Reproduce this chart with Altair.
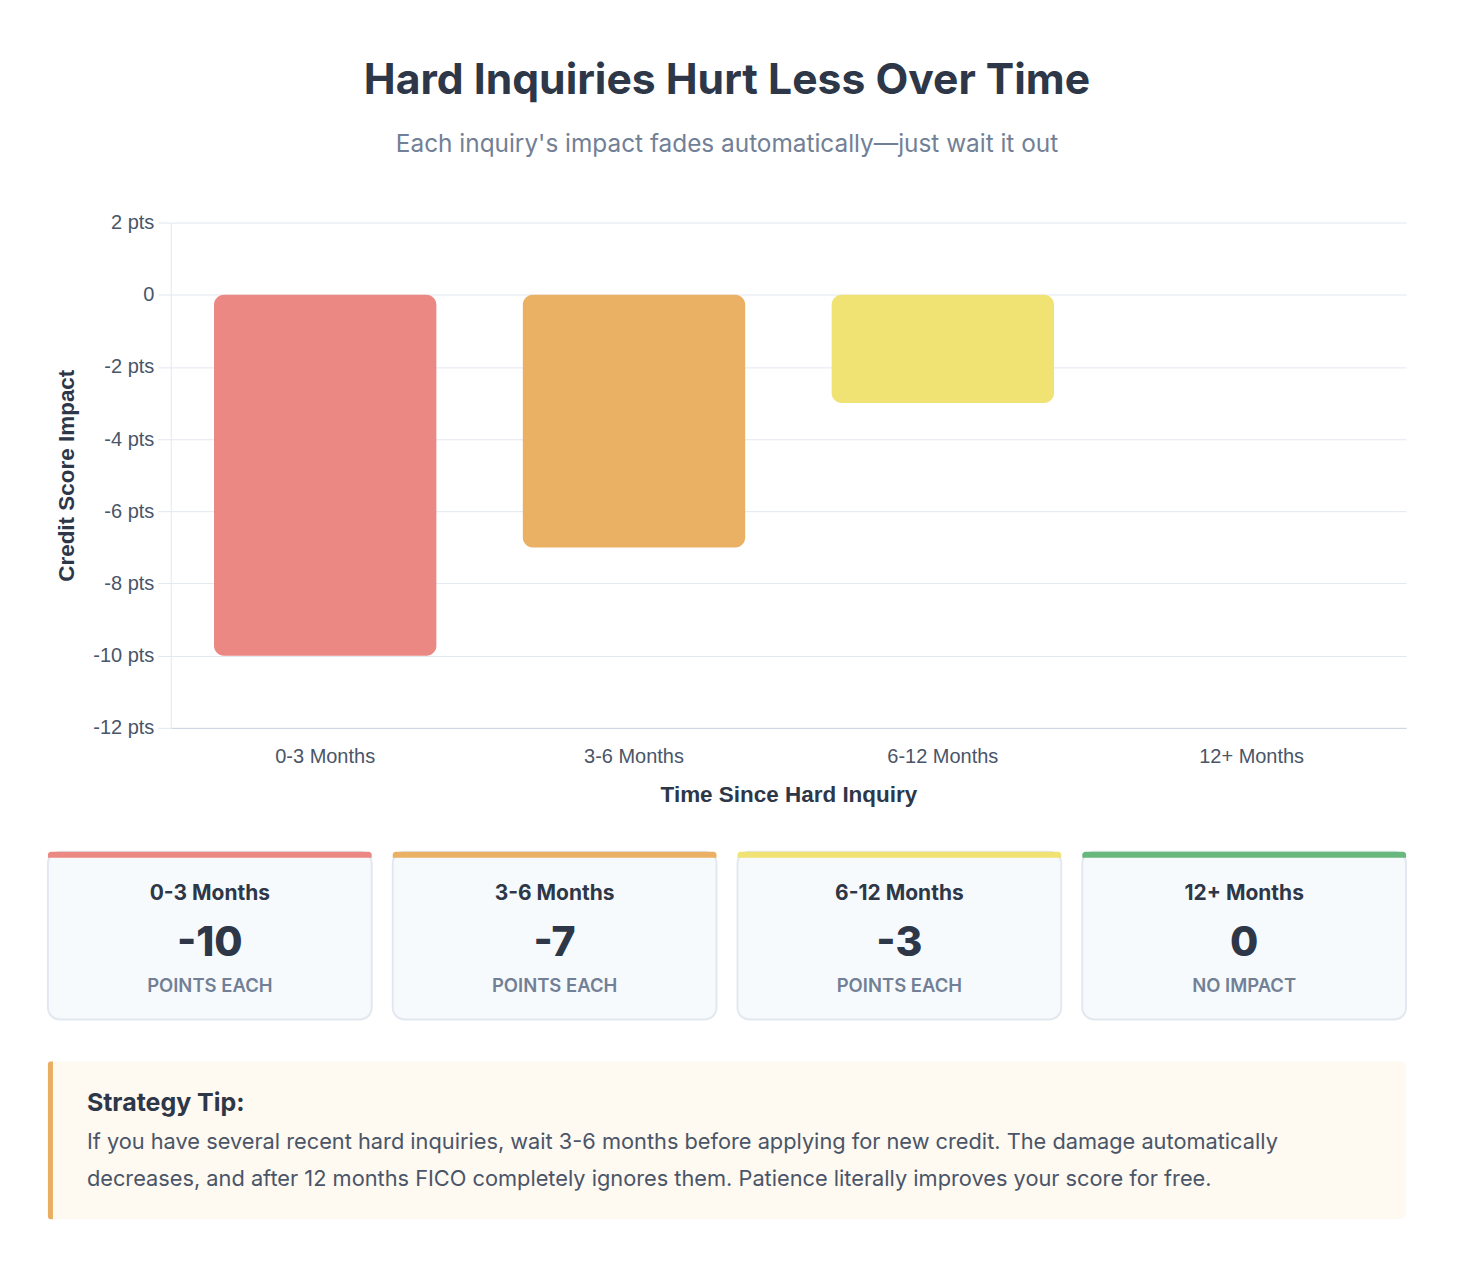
import altair as alt
import pandas as pd

# ---- data -------------------------------------------------------------
periods = ["0-3 Months", "3-6 Months", "6-12 Months", "12+ Months"]
impact = [-10, -7, -3, 0]
card_notes = ["POINTS EACH", "POINTS EACH", "POINTS EACH", "NO IMPACT"]
period_colors = ["#EB8883", "#EAB064", "#F1E274", "#68B77C"]
y_ticks = [2, 0, -2, -4, -6, -8, -10, -12]

title_text = "Hard Inquiries Hurt Less Over Time"
subtitle_text = "Each inquiry's impact fades automatically\u2014just wait it out"
tip_heading = "Strategy Tip:"
tip_lines = [
    "If you have several recent hard inquiries, wait 3-6 months before applying for new credit. The damage automatically",
    "decreases, and after 12 months FICO completely ignores them. Patience literally improves your score for free.",
]

FONT = "Inter"
AXIS_FONT = "Liberation Sans"
DARK = "#2D3748"
MUTED = "#718096"
BODY = "#4A5568"
GRID = "#E2E8F0"

df = pd.DataFrame({"period": periods, "impact": impact, "note": card_notes})
df["value_label"] = df["impact"].astype(str)

color = alt.Color(
    "period:N", scale=alt.Scale(domain=periods, range=period_colors), legend=None
)

# Every panel shares the plot's left edge as its origin; the card row and
# the tip box reach LEFT_REACH px further left, under the y axis.
PLOT_W, PLOT_H = 1237, 506
LEFT_REACH = 123

# ---- bar chart --------------------------------------------------------
bars = alt.Chart(df).mark_bar(cornerRadius=10).encode(
    x=alt.X(
        "period:N",
        sort=periods,
        scale=alt.Scale(paddingInner=0.28, paddingOuter=0.14),
        axis=alt.Axis(
            title="Time Since Hard Inquiry",
            labelAngle=0,
            ticks=False,
            grid=False,
            domainColor="#CBD5E0",
            labelPadding=19,
            titlePadding=17,
        ),
    ),
    y=alt.Y(
        "impact:Q",
        scale=alt.Scale(domain=[-12, 2], nice=False, zero=False),
        axis=alt.Axis(
            values=y_ticks,
            title="Credit Score Impact",
            labelExpr="datum.value == 0 ? '0' : datum.value + ' pts'",
            tickSize=13,
            tickColor=GRID,
            domainColor=GRID,
            gridColor=GRID,
            labelPadding=4,
            titlePadding=14,
        ),
    ),
    y2=alt.datum(0),
    color=color,
)

bar_chart = bars.properties(width=PLOT_W, height=PLOT_H)

# ---- summary cards ----------------------------------------------------
TOP = 4
CARD_H = 168

cards_base = alt.Chart(df).encode(
    x=alt.X(
        "period:N",
        sort=periods,
        scale=alt.Scale(paddingInner=0.0609, paddingOuter=0, range=[-LEFT_REACH, PLOT_W]),
        axis=None,
    )
)
card_bg = cards_base.mark_rect(
    cornerRadius=12, fill="#F7FAFC", stroke=GRID, strokeWidth=2
).encode(y=alt.value(TOP), y2=alt.value(TOP + CARD_H))
card_stripe = cards_base.mark_rect(
    cornerRadiusTopLeft=8, cornerRadiusTopRight=8
).encode(y=alt.value(TOP), y2=alt.value(TOP + 6), color=color)
card_title = cards_base.mark_text(
    font=FONT, fontSize=21, fontWeight=700, color=DARK
).encode(text="period:N", y=alt.value(TOP + 42))
card_value = cards_base.mark_text(
    font=FONT, fontSize=41, fontWeight=800, color=DARK
).encode(text="value_label:N", y=alt.value(TOP + 92))
card_note = cards_base.mark_text(
    font=FONT, fontSize=18.5, fontWeight=600, color=MUTED
).encode(text="note:N", y=alt.value(TOP + 134))

cards = alt.layer(card_bg, card_stripe, card_title, card_value, card_note).properties(
    width=PLOT_W, height=TOP + CARD_H
)

# ---- strategy tip -----------------------------------------------------
TIP_H = 158
tip_df = pd.DataFrame({"heading": [tip_heading], "body": ["\n".join(tip_lines)]})
tip_base = alt.Chart(tip_df)
tip_bg = tip_base.mark_rect(fill="#FEF9F1", cornerRadius=6).encode(
    x=alt.value(-LEFT_REACH), x2=alt.value(PLOT_W), y=alt.value(0), y2=alt.value(TIP_H)
)
tip_edge = tip_base.mark_rect(
    fill="#EAAE62", cornerRadiusTopLeft=4, cornerRadiusBottomLeft=4
).encode(
    x=alt.value(-LEFT_REACH), x2=alt.value(-LEFT_REACH + 5), y=alt.value(0), y2=alt.value(TIP_H)
)
tip_head = tip_base.mark_text(
    font=FONT, fontSize=25, fontWeight=700, color=DARK, align="left", baseline="alphabetic"
).encode(text="heading:N", x=alt.value(-LEFT_REACH + 39), y=alt.value(50))
tip_body = tip_base.mark_text(
    font=FONT,
    fontSize=21.8,
    color=BODY,
    align="left",
    baseline="alphabetic",
    lineBreak="\n",
    lineHeight=37,
).encode(text="body:N", x=alt.value(-LEFT_REACH + 39), y=alt.value(88))

tip = alt.layer(tip_bg, tip_edge, tip_head, tip_body).properties(width=PLOT_W, height=TIP_H)

# ---- page -------------------------------------------------------------
chart = (
    alt.vconcat(bar_chart, cards, tip, spacing=41)
    .properties(
        title=alt.TitleParams(
            text=title_text,
            subtitle=subtitle_text,
            anchor="middle",
            font=FONT,
            fontSize=42.7,
            fontWeight="bold",
            color=DARK,
            subtitleFont=FONT,
            subtitleFontSize=24.4,
            subtitleColor=MUTED,
            subtitlePadding=31,
            offset=56,
        ),
        padding={"left": 47, "right": 50, "top": 58, "bottom": 56},
        background="#FFFFFF",
    )
    .configure_view(stroke=None)
    .configure_axis(
        labelFont=AXIS_FONT,
        titleFont=AXIS_FONT,
        labelFontSize=20,
        titleFontSize=22.5,
        titleFontWeight="bold",
        labelColor=BODY,
        titleColor=DARK,
    )
)

chart.save("out.html", embed_options={"renderer": "svg", "actions": False})
